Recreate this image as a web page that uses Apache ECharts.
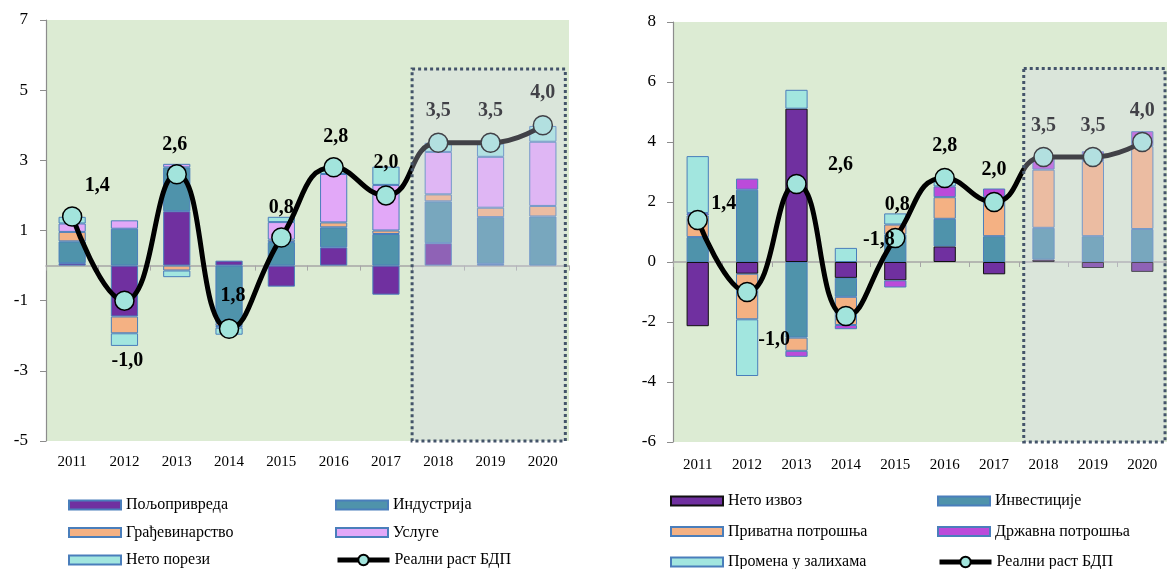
<!DOCTYPE HTML>
<html>
<head>
  <meta http-equiv="Content-Type" content="text/html,charset=utf-8"/>
  <title>Реални раст БДП</title>
  <script type="text/javascript" src="https://cdn.jsdelivr.net/npm/echarts@6/dist/echarts.min.js"></script>
  <style>
    body { margin: 0; background: #fff; }
    #container { width: 1167px; height: 569px; }
  </style>
</head>
<body>
  <div id="container"></div>
  <script type="text/javascript">
    /*** подаци ***/
    var godine = ['2011', '2012', '2013', '2014', '2015', '2016', '2017', '2018', '2019', '2020'];

    // лево: производна страна
    var poljoprivreda = [0.07, -1.45, 1.55, 0.14, -0.6, 0.52, -0.83, 0.64, 0.05, null];
    var industrija = [0.62, 1.05, 1.25, -1.64, 0.67, 0.57, 0.9, 1.19, 1.33, 1.4];
    var gradjevinarstvo = [0.27, -0.48, -0.14, -0.08, 0.07, 0.14, 0.1, 0.2, 0.27, 0.3];
    var usluge = [0.24, 0.24, 0.1, -0.05, 0.5, 1.38, 1.3, 1.21, 1.45, 1.83];
    var netoPorezi = [0.19, -0.36, -0.19, -0.2, 0.15, 0.16, 0.52, 0.26, 0.38, 0.45];

    // десно: расходна страна
    var netoIzvoz = [-2.14, -0.39, 5.11, -0.53, -0.61, 0.52, -0.41, 0.08, -0.2, -0.33];
    var investicije = [0.83, 2.41, -2.52, -0.63, 0.92, 0.92, 0.86, 1.06, 0.86, 1.1];
    var privatnaPotrosnja = [0.72, -1.52, -0.44, -0.94, 0.33, 0.72, 1.31, 1.94, 2.5, 2.76];
    var drzavnaPotrosnja = [0.08, 0.37, -0.2, -0.14, -0.24, 0.36, 0.28, 0.42, 0.33, 0.5];
    var promenaZaliha = [1.9, -1.89, 0.63, 0.47, 0.37, 0.26, null, null, null, null];

    var rastBdp = [1.4, -1.0, 2.6, -1.8, 0.8, 2.8, 2.0, 3.5, 3.5, 4.0];
    var oznakeLevo = ['1,4', '-1,0', '2,6', '1,8', '0,8', '2,8', '2,0', '3,5', '3,5', '4,0'];
    var oznakeDesno = ['1,4', '-1,0', '2,6', '-1,8', '0,8', '2,8', '2,0', '3,5', '3,5', '4,0'];

    var yTickLevo = [-5, 7, 2];
    var yTickDesno = [-6, 8, 2];

    /*** изглед ***/
    var FONT = 'Liberation Serif';
    var pomakLevo = [[25,-31],[3,60],[-2,-30],[4,-33],[0,-30],[2,-31],[0,-33],[0,-32],[0,-32],[0,-32]];
    var pomakDesno = [[26,-16],[27,48],[44,-19],[33,-76],[2,-33],[0,-32],[0,-32],[0,-31],[0,-31],[0,-31]];

    var LJUBICASTA = '#7030a0', TIRKIZNA = '#4f93ab', NARANDZASTA = '#f4b183',
        LILA = '#e2a8f8', SVETLOPLAVA = '#a2e6df', MAGENTA = '#bb4bda';

    function xOse(grid, margin) {
      return [
        { type: 'category', gridIndex: grid, data: godine, position: 'bottom',
          axisLine: { show: false, onZero: false }, axisTick: { show: false },
          axisLabel: { color: '#000', fontFamily: FONT, fontSize: 15, margin: margin } },
        { type: 'category', gridIndex: grid, data: godine, position: 'bottom',
          axisLine: { show: true, onZero: true, lineStyle: { color: '#a6a6a6', width: 1.5 } },
          axisTick: { show: true, length: 5, lineStyle: { color: '#a6a6a6' } },
          axisLabel: { show: false } },
        { type: 'value', gridIndex: grid, min: 0, max: 10, show: false, position: 'top' }
      ];
    }

    function yOsa(grid, tick, margin) {
      return { type: 'value', gridIndex: grid, min: tick[0], max: tick[1], interval: tick[2],
        axisLine: { show: true, lineStyle: { color: '#8c8c8c', width: 1.2 } },
        axisTick: { show: true, length: 6, lineStyle: { color: '#8c8c8c' } },
        splitLine: { show: false },
        axisLabel: { color: '#000', fontFamily: FONT, fontSize: 17, margin: margin } };
    }

    function stubac(ime, podaci, boja, ivica, xi, yi, sirina) {
      return { name: ime, type: 'bar', stack: 'st' + yi, data: podaci, barWidth: sirina,
        xAxisIndex: xi, yAxisIndex: yi,
        itemStyle: { color: boja, borderColor: ivica, borderWidth: 1 } };
    }

    function linija(xi, yi, oznake, pomak) {
      var d = rastBdp.map(function (v, i) {
        return { value: v, label: { offset: pomak[i], formatter: oznake[i] } };
      });
      return { name: 'Реални раст БДП', type: 'line', data: d, xAxisIndex: xi, yAxisIndex: yi,
        smooth: 0.5, z: 4, symbol: 'circle', symbolSize: 19,
        lineStyle: { color: '#000', width: 5 },
        itemStyle: { color: '#a2e4dc', borderColor: '#000', borderWidth: 1.5 },
        label: { show: true, position: 'inside', color: '#000', fontFamily: FONT,
          fontWeight: 'bold', fontSize: 20 } };
    }

    // засенчена прогноза 2018-2020, преко стубаца и линије
    function prognoza(xi, yi, od, vrh, dno, desno) {
      return { type: 'line', data: [], xAxisIndex: xi, yAxisIndex: yi, zlevel: 1, z: 20, silent: true,
        markArea: { silent: true, zlevel: 1, z: 20, label: { show: false },
          itemStyle: { color: 'rgba(216,214,236,0.3)', borderColor: '#44546a', borderWidth: 3,
            borderType: [3, 3] },
          data: [[{ xAxis: od, yAxis: vrh }, { xAxis: desno, yAxis: dno }]] } };
    }

    function legenda(imena, levo, vrh, razmak) {
      return { orient: 'vertical', left: levo, top: vrh, height: 100, itemWidth: 52, itemHeight: 9,
        itemGap: razmak, selectedMode: false, padding: 0, icon: 'rect',
        textStyle: { color: '#000', fontFamily: FONT, fontSize: 16, lineHeight: 18 },
        data: imena };
    }

    function legendaLinija(levo, vrh) {
      return { orient: 'vertical', left: levo, top: vrh, height: 30, itemWidth: 52, itemHeight: 13,
        selectedMode: false, padding: 0,
        lineStyle: { width: 5, color: '#000' },
        textStyle: { color: '#000', fontFamily: FONT, fontSize: 16, lineHeight: 18 },
        data: ['Реални раст БДП'] };
    }

    var dom = document.getElementById('container');
    var myChart = echarts.init(dom);

    var option = {
      animation: false,
      grid: [
        { left: 46, top: 20, width: 523, height: 421, show: true, backgroundColor: '#dcebd3', borderWidth: 0 },
        { left: 673, top: 22, width: 494, height: 420, show: true, backgroundColor: '#dcebd3', borderWidth: 0 }
      ],
      xAxis: xOse(0, 14).concat(xOse(1, 16)),
      yAxis: [yOsa(0, yTickLevo, 18), yOsa(1, yTickDesno, 17)],
      legend: [
        legenda(['Пољопривреда', 'Грађевинарство', 'Нето порези'], 68, 496, 9.5),
        legenda(['Индустрија', 'Услуге'], 335, 496, 9.5),
        legendaLinija(335, 551),
        legenda(['Нето извоз', 'Приватна потрошња', 'Промена у залихама'], 670, 492, 12.5),
        legenda(['Инвестиције', 'Државна потрошња'], 937, 492, 12.5),
        legendaLinija(937, 553)
      ],
      series: [
        stubac('Пољопривреда', poljoprivreda, LJUBICASTA, '#4a7ebb', 0, 0, '52%'),
        stubac('Индустрија', industrija, TIRKIZNA, '#4a7ebb', 0, 0, '52%'),
        stubac('Грађевинарство', gradjevinarstvo, NARANDZASTA, '#4a7ebb', 0, 0, '52%'),
        stubac('Услуге', usluge, LILA, '#4a7ebb', 0, 0, '52%'),
        stubac('Нето порези', netoPorezi, SVETLOPLAVA, '#4a7ebb', 0, 0, '52%'),
        linija(0, 0, oznakeLevo, pomakLevo),
        prognoza(2, 0, 7, 5.6, -5, 9.93),

        stubac('Нето извоз', netoIzvoz, LJUBICASTA, '#111', 3, 1, '45%'),
        stubac('Инвестиције', investicije, TIRKIZNA, '#4a7ebb', 3, 1, '45%'),
        stubac('Приватна потрошња', privatnaPotrosnja, NARANDZASTA, '#4a7ebb', 3, 1, '45%'),
        stubac('Државна потрошња', drzavnaPotrosnja, MAGENTA, '#4a7ebb', 3, 1, '45%'),
        stubac('Промена у залихама', promenaZaliha, SVETLOPLAVA, '#4a7ebb', 3, 1, '45%'),
        linija(3, 1, oznakeDesno, pomakDesno),
        prognoza(5, 1, 7.1, 6.45, -6, 9.96)
      ]
    };

    if (option && typeof option === 'object') {
      myChart.setOption(option, true);
    }
  </script>
</body>
</html>
